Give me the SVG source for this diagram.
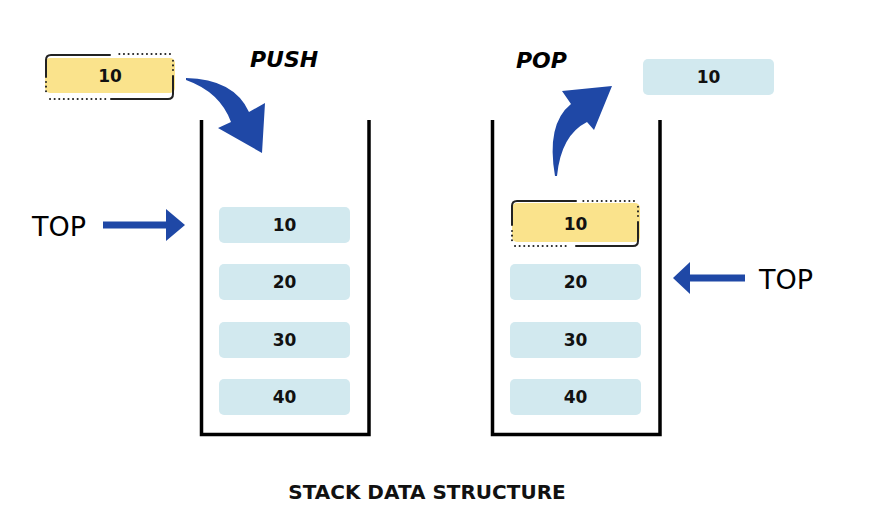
<svg xmlns="http://www.w3.org/2000/svg" width="876" height="508" viewBox="0 0 876 508">
<style>
.wall{fill:none;stroke:#000;stroke-width:3.5;stroke-linejoin:miter}
.box{fill:#D2E9EF}
.ybox{fill:#FAE38C}
.num{font-family:"DejaVu Sans","Noto Sans",sans-serif;font-weight:700;font-size:17px;fill:#111;text-anchor:middle}
.op{font-family:"DejaVu Sans","Noto Sans",sans-serif;font-weight:700;font-style:italic;font-size:22px;fill:#000}
.top{font-family:"DejaVu Sans","Noto Sans",sans-serif;font-size:27px;fill:#000}
.title{font-family:"DejaVu Sans","Noto Sans",sans-serif;font-weight:700;font-size:20px;fill:#111;text-anchor:middle}
.solid{fill:none;stroke:#222;stroke-width:2;stroke-linecap:round}
.dot{fill:none;stroke:#222;stroke-width:2;stroke-dasharray:0.1 4.5;stroke-linecap:round}
.arrow{fill:#1F48A6}
</style>
<g id="connectors">
<path class="arrow" d="M186,78 Q234,79 249,112 L265,103 L262,153 L218,128 L231,122 Q220,92 186,80 Z"/>
<path class="arrow" d="M555,176 Q546,124 571,104 L562,91 L612,86 L594,130 L587,122 Q561,135 557,176 Z"/>
<path class="arrow" d="M103,221.5 L166,221.5 L166,209 L185,225 L166,241 L166,228.5 L103,228.5 Z"/>
<path class="arrow" d="M745,274.5 L690,274.5 L690,262 L673,278 L690,294 L690,281.5 L745,281.5 Z"/>
</g>
<g id="stack-left">
<path class="wall" d="M201.5,120 V434.5 H369 V120"/>
</g>
<g id="stack-right">
<path class="wall" d="M492.5,120 V434.5 H660 V120"/>
</g>
<g id="push-item">
<rect class="ybox" x="45" y="58" width="130" height="35" rx="5"/>
<path class="solid" d="M110,55 H51 Q46,55 46,60 V77"/>
<path class="dot" d="M46,82 V92 M50,99 H106"/>
<path class="solid" d="M111,99 H168 Q173,99 173,94 V76"/>
<path class="dot" d="M173,70 V58 M170,54 H116"/>
<text class="num" x="110" y="81.5">10</text>
</g>
<g id="push-label"><text class="op" x="250" y="67">PUSH</text></g>
<g id="pop-label"><text class="op" x="516" y="68">POP</text></g>
<g id="popped-item">
<rect class="box" x="643" y="59" width="131" height="36" rx="5"/>
<text class="num" x="708.5" y="83">10</text>
</g>
<g id="left-10"><rect class="box" x="219" y="207" width="131" height="36" rx="5"/><text class="num" x="284.5" y="231">10</text></g>
<g id="left-20"><rect class="box" x="219" y="264" width="131" height="36" rx="5"/><text class="num" x="284.5" y="288">20</text></g>
<g id="left-30"><rect class="box" x="219" y="322" width="131" height="36" rx="5"/><text class="num" x="284.5" y="346">30</text></g>
<g id="left-40"><rect class="box" x="219" y="379" width="131" height="36" rx="5"/><text class="num" x="284.5" y="403">40</text></g>
<g id="right-10">
<rect class="ybox" x="512" y="203" width="128" height="39" rx="5"/>
<path class="solid" d="M576,201 H517 Q512,201 512,206 V225"/>
<path class="dot" d="M512,231 V242 M515,246 H567"/>
<path class="solid" d="M576,246 H633 Q638,246 638,241 V222"/>
<path class="dot" d="M638,216 V205 M634,201 H582"/>
<text class="num" x="575.5" y="229.5">10</text>
</g>
<g id="right-20"><rect class="box" x="510" y="264" width="131" height="36" rx="5"/><text class="num" x="575.5" y="288">20</text></g>
<g id="right-30"><rect class="box" x="510" y="322" width="131" height="36" rx="5"/><text class="num" x="575.5" y="346">30</text></g>
<g id="right-40"><rect class="box" x="510" y="379" width="131" height="36" rx="5"/><text class="num" x="575.5" y="403">40</text></g>
<g id="top-left"><text class="top" x="32" y="236">TOP</text></g>
<g id="top-right"><text class="top" x="759" y="289">TOP</text></g>
<g id="title"><text class="title" x="427" y="499">STACK DATA STRUCTURE</text></g>
</svg>
